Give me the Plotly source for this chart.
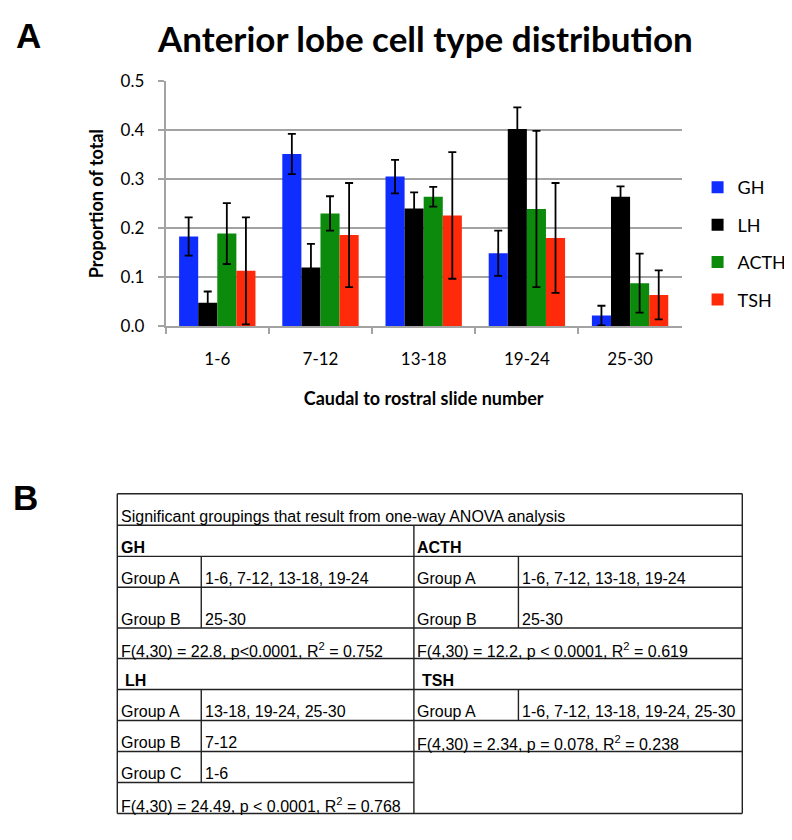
import plotly.graph_objects as go

# ---------------- data ----------------
categories = ["1-6", "7-12", "13-18", "19-24", "25-30"]
series_names = ["GH", "LH", "ACTH", "TSH"]
gh = [0.183, 0.351, 0.305, 0.149, 0.022]
gh_err = [0.039, 0.041, 0.034, 0.046, 0.020]
lh = [0.048, 0.120, 0.240, 0.402, 0.264]
lh_err = [0.023, 0.048, 0.033, 0.044, 0.021]
acth = [0.189, 0.230, 0.264, 0.239, 0.088]
acth_err = [0.062, 0.035, 0.020, 0.159, 0.060]
tsh = [0.113, 0.186, 0.226, 0.180, 0.064]
tsh_err = [0.109, 0.106, 0.129, 0.112, 0.050]
y_tick_values = [0.0, 0.1, 0.2, 0.3, 0.4, 0.5]
y_tick_labels = ["0.0", "0.1", "0.2", "0.3", "0.4", "0.5"]

chart_title = "Anterior lobe cell type distribution"
x_title = "Caudal to rostral slide number"
y_title = "Proportion of total"

table_title = "Significant groupings that result from one-way ANOVA analysis"
gh_groups = [("Group A", "1-6, 7-12, 13-18, 19-24"), ("Group B", "25-30")]
gh_stats = "F(4,30) = 22.8, p<0.0001, R<sup>2</sup> = 0.752"
acth_groups = [("Group A", "1-6, 7-12, 13-18, 19-24"), ("Group B", "25-30")]
acth_stats = "F(4,30) = 12.2, p < 0.0001, R<sup>2</sup> = 0.619"
lh_groups = [("Group A", "13-18, 19-24, 25-30"), ("Group B", "7-12"), ("Group C", "1-6")]
lh_stats = "F(4,30) = 24.49, p < 0.0001, R<sup>2</sup> = 0.768"
tsh_groups = [("Group A", "1-6, 7-12, 13-18, 19-24, 25-30")]
tsh_stats = "F(4,30) = 2.34, p = 0.078, R<sup>2</sup> = 0.238"

# ---------------- styling ----------------
# The page body has an 8px margin, so the figure is drawn 8px in from the
# window's top-left corner; page-pixel positions are converted accordingly.
PAGE_OFF = 8
W, H = 784, 832
colors = ["#0f2dff", "#000000", "#0b8a0b", "#ff2a0a"]
grid = "#a3a3a3"
CHART_FONT = "Lato, Calibri, sans-serif"
TABLE_FONT = "Liberation Sans, Arial, sans-serif"


def X(px):
    return (px - PAGE_OFF) / W


def Y(py):
    return 1 - (py - PAGE_OFF) / H


fig = go.Figure()
values = [gh, lh, acth, tsh]
errors = [gh_err, lh_err, acth_err, tsh_err]
for name, vals, errs, col in zip(series_names, values, errors, colors):
    fig.add_trace(go.Bar(
        name=name, x=categories, y=vals, legendgroup=name,
        marker=dict(color=col, line=dict(width=0)),
        error_y=dict(type="data", array=errs, visible=True,
                     color="#000000", thickness=1.8, width=4),
    ))

fig.update_layout(
    width=W, height=H,
    margin=dict(l=0, r=0, t=0, b=0),
    paper_bgcolor="white", plot_bgcolor="white",
    barmode="group", bargap=0.26, bargroupgap=0.0,
    font=dict(family=CHART_FONT, color="#000000"),
    xaxis=dict(
        domain=[X(166.7), X(686)],
        showline=True, linecolor=grid, linewidth=2,
        ticks="outside", tickson="boundaries", ticklen=6, tickcolor=grid, tickwidth=2,
        tickfont=dict(size=17, family=CHART_FONT), ticklabelstandoff=16,
        showgrid=False,
        title=dict(text="<b>" + x_title + "</b>", font=dict(size=18, family=CHART_FONT), standoff=25),
    ),
    yaxis=dict(
        domain=[Y(323.3), Y(71.5)], range=[0, 0.5],
        tickvals=y_tick_values, ticktext=y_tick_labels,
        showline=True, linecolor=grid, linewidth=2,
        ticks="outside", ticklen=6, tickcolor=grid, tickwidth=2,
        tickfont=dict(size=17, family=CHART_FONT), ticklabelstandoff=10,
        showgrid=True, gridcolor=grid, gridwidth=2, zeroline=False,
        title=dict(text="<b>" + y_title + "</b>", font=dict(size=18, family=CHART_FONT), standoff=12),
    ),
    legend=dict(
        x=X(702), y=Y(162), xanchor="left", yanchor="top",
        font=dict(size=18, family=CHART_FONT), traceorder="grouped",
        tracegroupgap=11, bgcolor="rgba(0,0,0,0)",
    ),
    showlegend=True,
)

annotations = []
shapes = []


def text(px, py, s, size, family, bold=False, xanchor="left"):
    annotations.append(dict(
        x=X(px), y=Y(py), xref="paper", yref="paper",
        text=("<b>" + s + "</b>") if bold else s,
        showarrow=False, xanchor=xanchor, yanchor="middle",
        font=dict(size=size, family=family, color="#000000"),
    ))


def hline(x0, x1, y):
    shapes.append(dict(type="line", xref="paper", yref="paper",
                       x0=X(x0), x1=X(x1), y0=Y(y), y1=Y(y),
                       line=dict(color="#222222", width=1.4)))


def vline(x, y0, y1):
    shapes.append(dict(type="line", xref="paper", yref="paper",
                       x0=X(x), x1=X(x), y0=Y(y0), y1=Y(y1),
                       line=dict(color="#222222", width=1.4)))


# Panel letters and title
text(28.5, 25, "A", 35, "Liberation Sans, Arial", bold=True, xanchor="center")
text(26, 499, "B", 35, "Liberation Sans, Arial", bold=True, xanchor="center")
text(427.5, 27, chart_title, 35, CHART_FONT, bold=True, xanchor="center")

# ---------------- table ----------------
L, M, R = 118, 416.5, 747
IL, IR = 202.5, 521.7
top, r1 = 495, 527.3
rows_left = [559.3, 591, 632.7, 664, 695.8, 727.6, 759.4, 791.2, 823]
rows_right = [559.3, 591, 632.7, 664, 695.8, 727.6, 759.4]

hline(L, R, top)
hline(L, R, 823)
vline(L, top, 823)
vline(R, top, 823)
hline(L, R, r1)
vline(M, r1, 823)
for yv in rows_left[:-1]:
    hline(L, M, yv)
for yv in rows_right:
    hline(M, R, yv)
vline(IL, 559.3, 632.7)
vline(IL, 695.8, 791.2)
vline(IR, 559.3, 632.7)
vline(IR, 695.8, 727.6)

TS = 16
off = 8.7  # cap-centre distance above cell bottom
text(L + 1.5, r1 - off, table_title, TS, TABLE_FONT)

# GH block (left top)
bottoms = [559.3, 591, 632.7, 664]
text(L + 1.5, bottoms[0] - off, "GH", TS, TABLE_FONT, bold=True)
for (g, v), b in zip(gh_groups, bottoms[1:3]):
    text(L + 1.5, b - off, g, TS, TABLE_FONT)
    text(IL + 2, b - off, v, TS, TABLE_FONT)
text(L + 1.5, bottoms[3] - off, gh_stats, TS, TABLE_FONT)

# ACTH block (right top)
text(M + 1.5, bottoms[0] - off, "ACTH", TS, TABLE_FONT, bold=True)
for (g, v), b in zip(acth_groups, bottoms[1:3]):
    text(M + 1.5, b - off, g, TS, TABLE_FONT)
    text(IR + 2, b - off, v, TS, TABLE_FONT)
text(M + 1.5, bottoms[3] - off, acth_stats, TS, TABLE_FONT)

# LH block (left bottom)
lb = [695.8, 727.6, 759.4, 791.2, 823]
text(L + 6, lb[0] - off, "LH", TS, TABLE_FONT, bold=True)
for (g, v), b in zip(lh_groups, lb[1:4]):
    text(L + 1.5, b - off, g, TS, TABLE_FONT)
    text(IL + 2, b - off, v, TS, TABLE_FONT)
text(L + 1.5, lb[4] - off, lh_stats, TS, TABLE_FONT)

# TSH block (right bottom)
text(M + 6, lb[0] - off, "TSH", TS, TABLE_FONT, bold=True)
for (g, v), b in zip(tsh_groups, lb[1:2]):
    text(M + 1.5, b - off, g, TS, TABLE_FONT)
    text(IR + 2, b - off, v, TS, TABLE_FONT)
text(M + 1.5, lb[2] - off, tsh_stats, TS, TABLE_FONT)

fig.update_layout(annotations=annotations, shapes=shapes)
fig.write_html("out.html")
